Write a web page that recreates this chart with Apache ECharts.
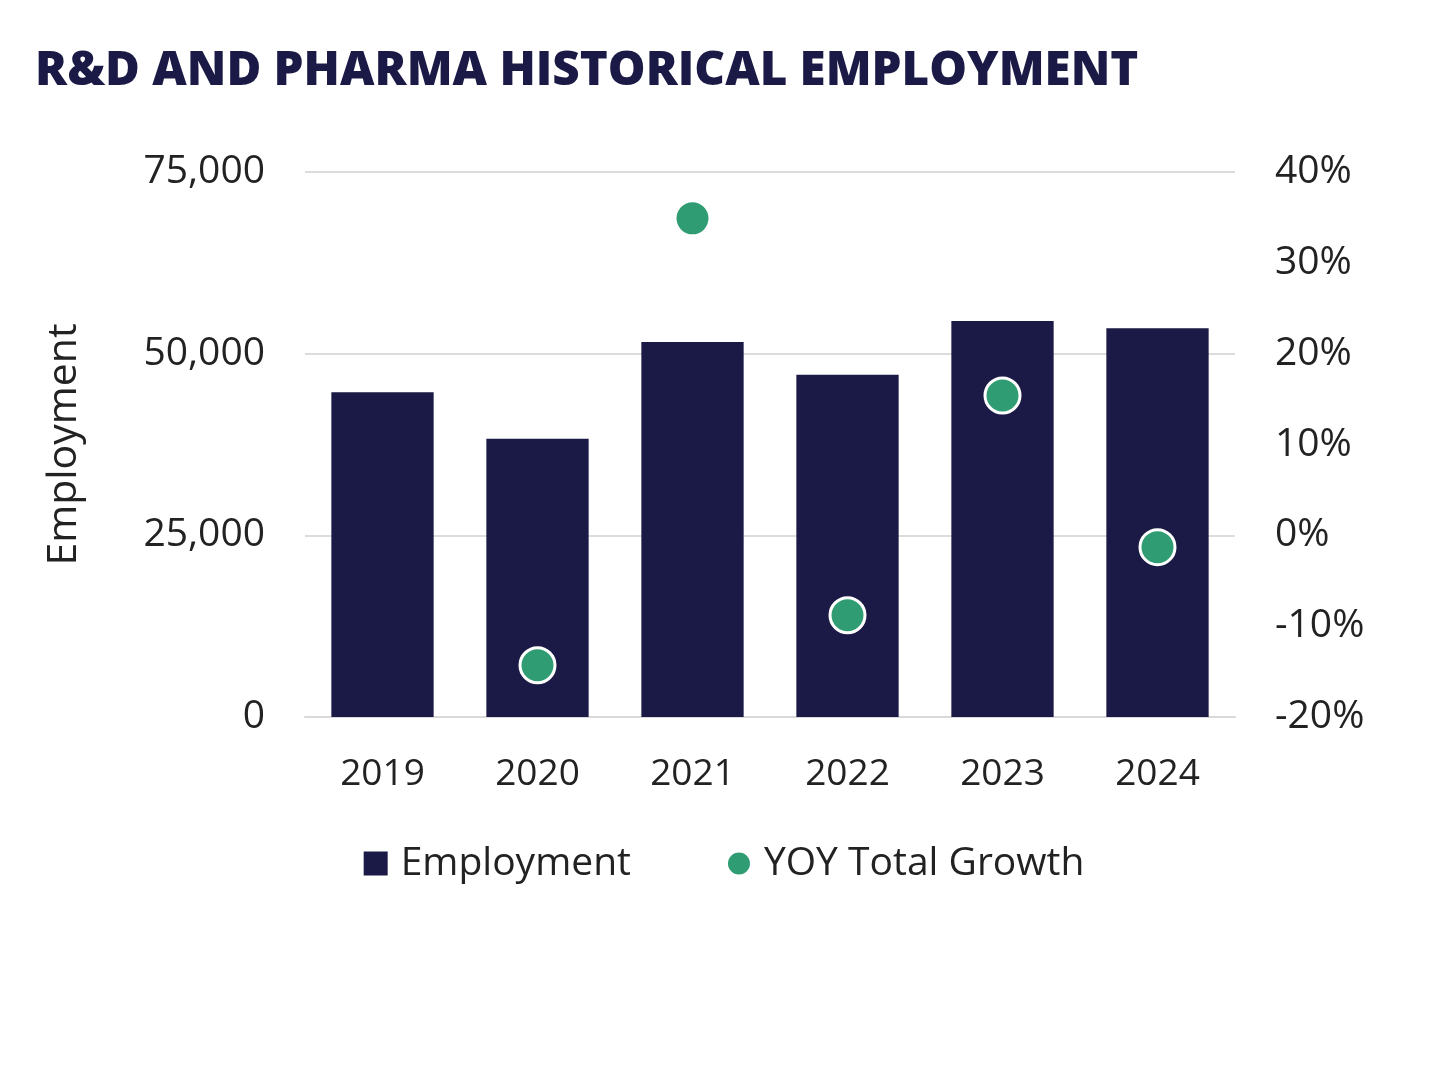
<!DOCTYPE html>
<html>
<head>
<meta charset="utf-8">
<script src="https://cdn.jsdelivr.net/npm/echarts@6/dist/echarts.min.js"></script>
<style>
  html, body { margin: 0; padding: 0; background: #fff; }
  #chart { width: 1448px; height: 1086px; }
</style>
</head>
<body>
<div id="chart"></div>
<script>
// data
var years = ['2019', '2020', '2021', '2022', '2023', '2024'];
var employment = [44700, 38300, 51600, 47100, 54500, 53500];
var yoyGrowth = [null, -14.3, 34.9, -8.8, 15.4, -1.3];

var navy = '#1b1945';
var green = '#2f9c73';
var fontFam = '"Open Sans", Lato, sans-serif';

var chart = echarts.init(document.getElementById('chart'));

chart.setOption({
    backgroundColor: '#fff',
    animation: false,
    title: {
        text: 'R&D AND PHARMA HISTORICAL EMPLOYMENT',
        left: 30,
        top: 42,
        textStyle: { fontFamily: fontFam, fontWeight: 800, fontSize: 47.5, color: navy }
    },
    legend: {
        bottom: 198,
        left: 'center',
        itemGap: 95,
        itemWidth: 24,
        itemHeight: 24,
        textStyle: { fontFamily: fontFam, fontSize: 39, color: '#222', padding: [0, 0, 0, 8] },
        data: [
            { name: 'Employment', icon: 'rect' },
            { name: 'YOY Total Growth', icon: 'circle' }
        ]
    },
    grid: { left: 305, right: 213, top: 172, bottom: 369 },
    xAxis: {
        type: 'category',
        data: years,
        axisTick: { show: false },
        axisLine: { lineStyle: { color: '#d9d9d9', width: 2 } },
        axisLabel: { margin: 39, fontFamily: fontFam, fontSize: 37, color: '#222' }
    },
    yAxis: [
        {
            type: 'value',
            min: 0,
            max: 75000,
            interval: 25000,
            name: 'Employment',
            nameLocation: 'middle',
            nameGap: 220,
            nameTextStyle: { fontFamily: fontFam, fontSize: 41, color: '#222' },
            axisLine: { show: false },
            axisTick: { show: false },
            splitLine: { lineStyle: { color: '#dcdcdc', width: 2 } },
            axisLabel: {
                margin: 40,
                fontFamily: fontFam,
                fontSize: 39,
                color: '#222',
                formatter: function (v) { return v.toLocaleString('en-US'); }
            }
        },
        {
            type: 'value',
            min: -20,
            max: 40,
            interval: 10,
            position: 'right',
            axisLine: { show: false },
            axisTick: { show: false },
            splitLine: { show: false },
            axisLabel: {
                margin: 40,
                fontFamily: fontFam,
                fontSize: 39,
                color: '#222',
                formatter: '{value}%'
            }
        }
    ],
    series: [
        {
            name: 'Employment',
            type: 'bar',
            data: employment,
            barWidth: '66%',
            itemStyle: { color: navy }
        },
        {
            name: 'YOY Total Growth',
            type: 'scatter',
            yAxisIndex: 1,
            data: yoyGrowth,
            symbolSize: 35,
            itemStyle: { color: green, opacity: 1, borderColor: '#fff', borderWidth: 3 }
        }
    ]
});
</script>
</body>
</html>
